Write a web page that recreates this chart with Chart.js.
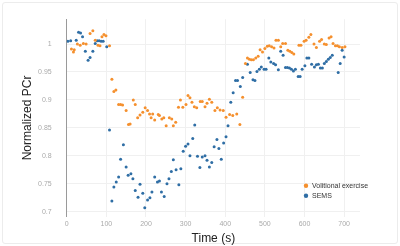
<!DOCTYPE html>
<html>
<head>
<meta charset="utf-8">
<script src="https://cdn.jsdelivr.net/npm/chart.js@4/dist/chart.umd.min.js"></script>
<style>
    html, body { margin: 0; padding: 0; background: #fff; }
    #wrap { position: relative; width: 400px; height: 246px; }
    #frame { position: absolute; left: 2px; top: 2px; width: 394px; height: 240px; border: 1px solid #ececec; border-radius: 3px; }
    #chart-pcr { position: absolute; left: 0; top: 0; }
</style>
</head>
<body>
<div id="wrap">
    <div id="frame"></div>
    <canvas id="chart-pcr" width="400" height="246"></canvas>
</div>
<script>
// volitional exercise (orange)
const timeVolitional = [
    12, 17, 19, 27, 34, 42, 49, 59, 66, 72, 79, 84, 89, 94, 99, 108,
    114, 119, 124, 131, 136, 141, 150, 156, 160, 168, 173, 179, 185, 192, 198, 204,
    209, 213, 217, 222, 231, 234, 240, 245, 251, 259, 265, 269, 275, 282, 287, 293,
    301, 306, 311, 316, 322, 328, 337, 342, 349, 354, 360, 366, 374, 380, 387, 395,
    402, 411, 419, 429, 437, 444,
    451, 456, 461, 466, 471, 477, 483, 488, 494, 500, 506, 511, 517, 523, 528, 534,
    540, 545, 552, 558, 563, 568, 573, 586, 591, 599, 604, 611, 616, 624, 630, 638,
    643, 650, 655, 662, 667, 672, 678, 683, 688, 695, 702,
];
const pcrVolitional = [
    0.991, 0.986, 0.990, 1.000, 0.998, 1.001, 1.000, 1.019, 1.024, 1.007, 0.998, 0.997, 1.013, 1.017, 1.015, 0.997,
    0.937, 0.915, 0.918, 0.892, 0.892, 0.891, 0.881, 0.856, 0.857, 0.900, 0.892, 0.868, 0.873, 0.878, 0.886, 0.881,
    0.875, 0.868, 0.875, 0.864, 0.874, 0.872, 0.866, 0.868, 0.854, 0.868, 0.866, 0.854, 0.860, 0.887, 0.900, 0.887,
    0.892, 0.908, 0.904, 0.896, 0.888, 0.886, 0.897, 0.897, 0.888, 0.894, 0.901, 0.896, 0.881, 0.886, 0.882, 0.881,
    0.869, 0.874, 0.872, 0.875, 0.856, 0.905,
    0.965, 0.975, 0.973, 0.972, 0.972, 0.975, 0.978, 0.990, 0.986, 0.992, 0.996, 0.997, 0.995, 0.993, 1.007, 1.007,
    0.995, 1.001, 1.001, 0.989, 0.987, 0.985, 0.982, 0.998, 0.998, 1.005, 1.007, 1.012, 1.017, 1.000, 0.994, 1.005,
    1.008, 1.000, 0.999, 1.011, 1.013, 1.001, 0.997, 0.997, 0.995, 0.994, 0.995,
];

// SEMS (blue)
const timeSems = [
    3, 10, 24, 30, 35, 40, 47, 54, 59, 66, 72, 77, 82, 87, 92, 101,
    108, 114, 119, 125, 131, 136, 143, 150, 155, 162, 167, 173, 180, 185, 192, 197,
    204, 210, 215, 222, 229, 234, 239, 246, 253, 258, 264, 269, 276, 283, 288, 294,
    300, 306, 311, 318, 323, 330, 336, 342, 349, 354, 360, 366, 372, 379, 384, 390,
    396, 402, 407, 414, 420, 426, 431, 438, 444, 456, 463,
    470, 475, 480, 486, 491, 498, 503, 510, 515, 522, 527, 534, 540, 546, 552, 557,
    562, 567, 572, 577, 584, 589, 594, 601, 606, 611, 618, 625, 630, 635, 640, 645,
    650, 655, 660, 665, 670, 685, 690, 695, 700, 705,
];
const pcrSems = [
    1.005, 1.006, 1.007, 1.021, 1.020, 1.013, 0.987, 0.971, 0.976, 0.987, 1.001, 1.006, 1.006, 1.005, 1.005, 0.995,
    0.846, 0.719, 0.744, 0.753, 0.762, 0.794, 0.820, 0.780, 0.765, 0.768, 0.759, 0.738, 0.726, 0.749, 0.733, 0.707,
    0.721, 0.725, 0.735, 0.762, 0.753, 0.755, 0.735, 0.727, 0.750, 0.759, 0.772, 0.793, 0.775, 0.748, 0.777, 0.808,
    0.817, 0.821, 0.800, 0.831, 0.855, 0.799, 0.779, 0.798, 0.800, 0.792, 0.780, 0.788, 0.816, 0.829, 0.813, 0.794,
    0.823, 0.834, 0.854, 0.896, 0.913, 0.935, 0.935, 0.924, 0.940, 0.964, 0.949,
    0.936, 0.935, 0.951, 0.955, 0.959, 0.955, 0.955, 0.975, 0.968, 0.965, 0.963, 0.954, 0.987, 0.980, 0.958, 0.958,
    0.957, 0.955, 0.952, 0.955, 0.942, 0.942, 0.955, 0.961, 0.975, 0.975, 0.964, 0.959, 0.963, 0.964, 0.957, 0.957,
    0.965, 0.969, 0.973, 0.976, 0.980, 0.949, 0.965, 0.989, 0.977,
];

const seriesLabels = ["Volitional exercise", "SEMS"];
const seriesColors = ["#f5902e", "#2f6ea5"];

const toPoints = (xs, ys) => xs.map((x, i) => ({ x: x, y: ys[i] }));

// legend sits inside the plot, bottom right
const insideLegend = {
    id: "insideLegend",
    afterDraw(chart) {
        const ctx = chart.ctx;
        const area = chart.chartArea;
        ctx.save();
        ctx.font = "7px 'Liberation Sans', Arial, sans-serif";
        ctx.textBaseline = "middle";
        chart.data.datasets.forEach((ds, i) => {
            const x = area.right - 54;
            const y = area.bottom - 31 + i * 10;
            ctx.fillStyle = ds.backgroundColor;
            ctx.beginPath();
            ctx.arc(x, y, 2.2, 0, Math.PI * 2);
            ctx.fill();
            ctx.fillStyle = "#333";
            ctx.fillText(ds.label, x + 6, y + 0.5);
        });
        ctx.restore();
    },
};

Chart.defaults.font.family = "'Liberation Sans', Arial, sans-serif";

const chartPcr = new Chart(document.getElementById("chart-pcr"), {
    type: "scatter",
    data: {
        datasets: [
            {
                label: seriesLabels[0],
                data: toPoints(timeVolitional, pcrVolitional),
                backgroundColor: seriesColors[0],
                borderColor: seriesColors[0],
                pointRadius: 1.5,
                borderWidth: 0,
            },
            {
                label: seriesLabels[1],
                data: toPoints(timeSems, pcrSems),
                backgroundColor: seriesColors[1],
                borderColor: seriesColors[1],
                pointRadius: 1.5,
                borderWidth: 0,
            },
        ],
    },
    options: {
        responsive: false,
        animation: false,
        layout: {
            padding: { left: 0, top: 18, right: 40, bottom: 0 },
        },
        plugins: {
            legend: { display: false },
            tooltip: { enabled: false },
        },
        scales: {
            x: {
                type: "linear",
                min: 0,
                max: 740,
                border: { display: false },
                grid: { color: "#f0f0f0", drawTicks: false },
                ticks: {
                    stepSize: 100,
                    includeBounds: false,
                    padding: 3,
                    color: "#aaa",
                    font: { size: 7 },
                    maxRotation: 0,
                },
                title: {
                    display: true,
                    text: "Time (s)",
                    color: "#222",
                    font: { size: 12 },
                    padding: { top: 2, bottom: 0 },
                },
                afterFit: (scale) => {
                    scale.height = 29.3;
                },
            },
            y: {
                type: "linear",
                min: 0.691,
                max: 1.0445,
                border: { display: true, color: "#9a9a9a" },
                grid: { color: "#f0f0f0", drawTicks: false },
                ticks: {
                    stepSize: 0.05,
                    includeBounds: false,
                    padding: 15,
                    color: "#aaa",
                    font: { size: 7 },
                    callback: (v) => Number(v.toFixed(2)).toString(),
                },
                title: {
                    display: true,
                    text: "Normalized PCr",
                    color: "#222",
                    font: { size: 12 },
                    padding: { top: 20, bottom: 0 },
                },
                afterFit: (scale) => {
                    scale.width = 66.7;
                },
            },
        },
    },
    plugins: [insideLegend],
});
</script>
</body>
</html>
